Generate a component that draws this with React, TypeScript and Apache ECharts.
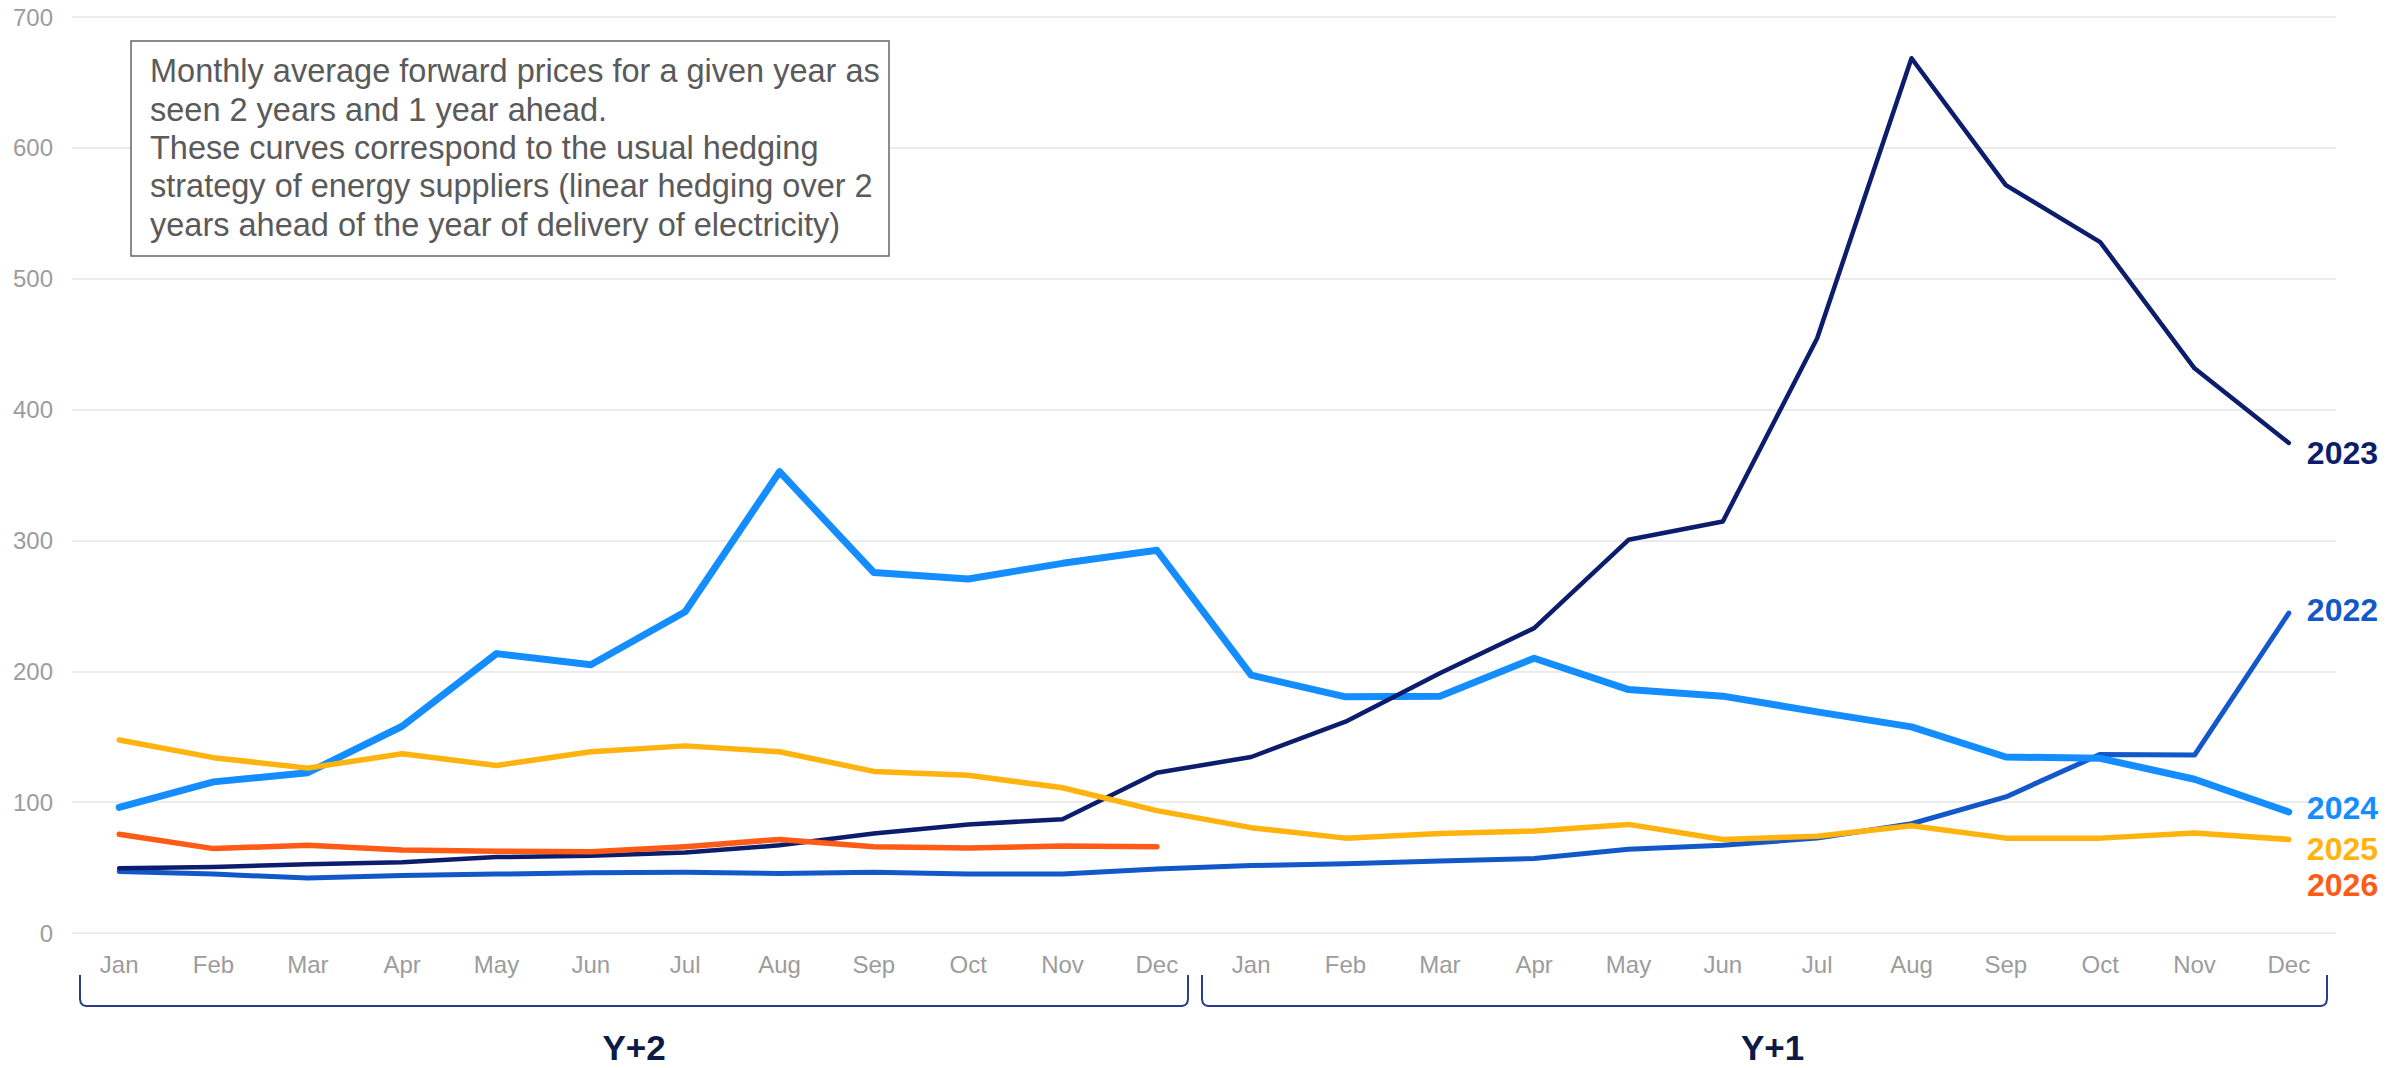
import React, { useEffect, useRef } from "react";
import * as echarts from "echarts";

// ---------- data ----------
const MONTHS = ["Jan", "Feb", "Mar", "Apr", "May", "Jun", "Jul", "Aug", "Sep", "Oct", "Nov", "Dec"];
const PERIODS = ["Y+2", "Y+1"];
const CATEGORIES = PERIODS.flatMap((p) => MONTHS.map((m) => `${p}|${m}`));

const Y_TICKS = [0, 100, 200, 300, 400, 500, 600, 700];

const S2022 = [
  47, 45, 42, 44, 45, 46, 46.5, 45.5, 46.5, 45, 45, 49,
  51.5, 53, 55, 57, 64, 67, 72.5, 83.5, 104, 136.5, 136, 244.5,
];
const S2023 = [
  49.5, 50.5, 52.5, 54, 58, 59, 61.5, 67, 76, 83, 87, 122.5,
  134.5, 161.5, 198.5, 233, 300.5, 314.5, 454.5, 668.5, 571.5, 528, 431.5, 374.5,
];
const S2024 = [
  96, 115.5, 122.5, 158, 213.5, 205, 245.5, 352.5, 275.5, 270.5, 282.5, 292.5,
  197, 180.5, 181, 210, 186, 181, 169, 157.5, 134.5, 133.5, 117.5, 92.5,
];
const S2025 = [
  147.5, 134, 126, 137, 128, 138.5, 143, 138.5, 123.5, 120.5, 111, 93.5,
  80.5, 72.5, 76, 78, 83, 71.5, 74, 82, 72.5, 72.5, 76.5, 71.5,
];
const S2026 = [75.5, 64.5, 67, 63.5, 62.5, 62, 66, 71.5, 66, 65, 66.5, 66];

const NOTE_LINES = [
  "Monthly average forward prices for a given year as",
  "seen 2 years and 1 year ahead.",
  "These curves correspond to the usual hedging",
  "strategy of energy suppliers (linear hedging over 2",
  "years ahead of the year of delivery of electricity)",
];

// ---------- styles / layout ----------
const W = 2405;
const H = 1068;
const FONT = '"Liberation Sans", Arial, Helvetica, sans-serif';
const GRID_L = 72;
const GRID_R = 69;
const GRID_T = 17;
const GRID_B = 135;
const GRID_RIGHT_X = W - GRID_R;
const MID_X = GRID_L + (GRID_RIGHT_X - GRID_L) / 2;

const C2022 = "#1358c8";
const C2023 = "#0b1d6c";
const C2024 = "#138dff";
const C2025 = "#ffb30f";
const C2026 = "#ff5b16";
const BRACKET = "#2c3d88";
const PERIOD_TXT = "#0c1a45";

function bracketPoints(x1: number, x2: number, yTop: number, yBot: number) {
  return [
    [x1, yTop],
    [x1, yBot - 7],
    [x1 + 0.8, yBot - 3],
    [x1 + 3, yBot - 0.8],
    [x1 + 6, yBot],
    [x2 - 6, yBot],
    [x2 - 3, yBot - 0.8],
    [x2 - 0.8, yBot - 3],
    [x2, yBot - 7],
    [x2, yTop],
  ];
}

function lineSeries(name: string, data: number[], color: string, width: number, labelOffsetY: number | null) {
  return {
    type: "line",
    name,
    data,
    symbol: "none",
    smooth: false,
    lineStyle: { color, width, cap: "round", join: "round" },
    itemStyle: { color },
    endLabel:
      labelOffsetY === null
        ? { show: false }
        : {
            show: true,
            formatter: name,
            color,
            fontFamily: FONT,
            fontSize: 32,
            fontWeight: "bold",
            distance: 18,
            offset: [0, labelOffsetY],
          },
    emphasis: { disabled: true },
  };
}

export default function App() {
  const ref = useRef<HTMLDivElement>(null);

  useEffect(() => {
    document.body.style.margin = "0";
    if (!ref.current) return;
    const chart = echarts.init(ref.current, undefined, { renderer: "svg", width: W, height: H });

    const y2Left = GRID_L + 8;
    const y2Right = MID_X - 16;
    const y1Left = MID_X - 2;
    const y1Right = GRID_RIGHT_X - 9;

    chart.setOption({
      animation: false,
      backgroundColor: "#ffffff",
      grid: {
        left: GRID_L,
        right: GRID_R,
        top: GRID_T,
        bottom: GRID_B,
        containLabel: false,
        outerBoundsMode: "none",
      },
      xAxis: {
        type: "category",
        data: CATEGORIES,
        boundaryGap: true,
        axisLine: { show: false },
        axisTick: { show: false },
        axisLabel: {
          interval: 0,
          color: "#9c9c9c",
          fontFamily: FONT,
          fontSize: 24,
          margin: 19,
          formatter: (v: string) => v.split("|")[1],
        },
        splitLine: { show: false },
      },
      yAxis: {
        type: "value",
        min: Y_TICKS[0],
        max: Y_TICKS[Y_TICKS.length - 1],
        interval: Y_TICKS[1] - Y_TICKS[0],
        axisLine: { show: false },
        axisTick: { show: false },
        axisLabel: {
          color: "#9c9c9c",
          fontFamily: FONT,
          fontSize: 24,
          margin: 19,
        },
        splitLine: { show: true, lineStyle: { color: "#e5e5e5", width: 1.5 } },
      },
      series: [
        lineSeries("2022", S2022, C2022, 5, -3),
        lineSeries("2024", S2024, C2024, 7, -4),
        lineSeries("2023", S2023, C2023, 4.5, 10),
        lineSeries("2025", S2025, C2025, 5.5, 10),
        lineSeries("2026", S2026, C2026, 5.5, null),
      ],
      graphic: [
        {
          type: "rect",
          shape: { x: 131, y: 41, width: 758, height: 215 },
          style: { fill: "#ffffff", stroke: "#666666", lineWidth: 1.5 },
          z: 100,
        },
        {
          type: "text",
          x: 150,
          y: 52,
          z: 101,
          style: {
            text: NOTE_LINES.join("\n"),
            fill: "#5a5a5a",
            fontFamily: FONT,
            fontSize: 32.5,
            lineHeight: 38.4,
            verticalAlign: "top",
            align: "left",
          },
        },
        {
          type: "polyline",
          shape: { points: bracketPoints(y2Left, y2Right, 975, 1006) },
          style: { stroke: BRACKET, lineWidth: 2, fill: null },
        },
        {
          type: "polyline",
          shape: { points: bracketPoints(y1Left, y1Right, 975, 1006) },
          style: { stroke: BRACKET, lineWidth: 2, fill: null },
        },
        {
          type: "text",
          x: (y2Left + y2Right) / 2,
          y: 1047,
          style: {
            text: PERIODS[0],
            fill: PERIOD_TXT,
            fontFamily: FONT,
            fontSize: 35,
            fontWeight: "bold",
            align: "center",
            verticalAlign: "middle",
          },
        },
        {
          type: "text",
          x: (y1Left + y1Right) / 2 + 8,
          y: 1047,
          style: {
            text: PERIODS[1],
            fill: PERIOD_TXT,
            fontFamily: FONT,
            fontSize: 35,
            fontWeight: "bold",
            align: "center",
            verticalAlign: "middle",
          },
        },
        {
          type: "text",
          x: 2307,
          y: 885,
          style: {
            text: "2026",
            fill: C2026,
            fontFamily: FONT,
            fontSize: 32,
            fontWeight: "bold",
            align: "left",
            verticalAlign: "middle",
          },
        },
      ],
    });

    return () => {
      chart.dispose();
    };
  }, []);

  return <div ref={ref} style={{ width: W, height: H }} />;
}
